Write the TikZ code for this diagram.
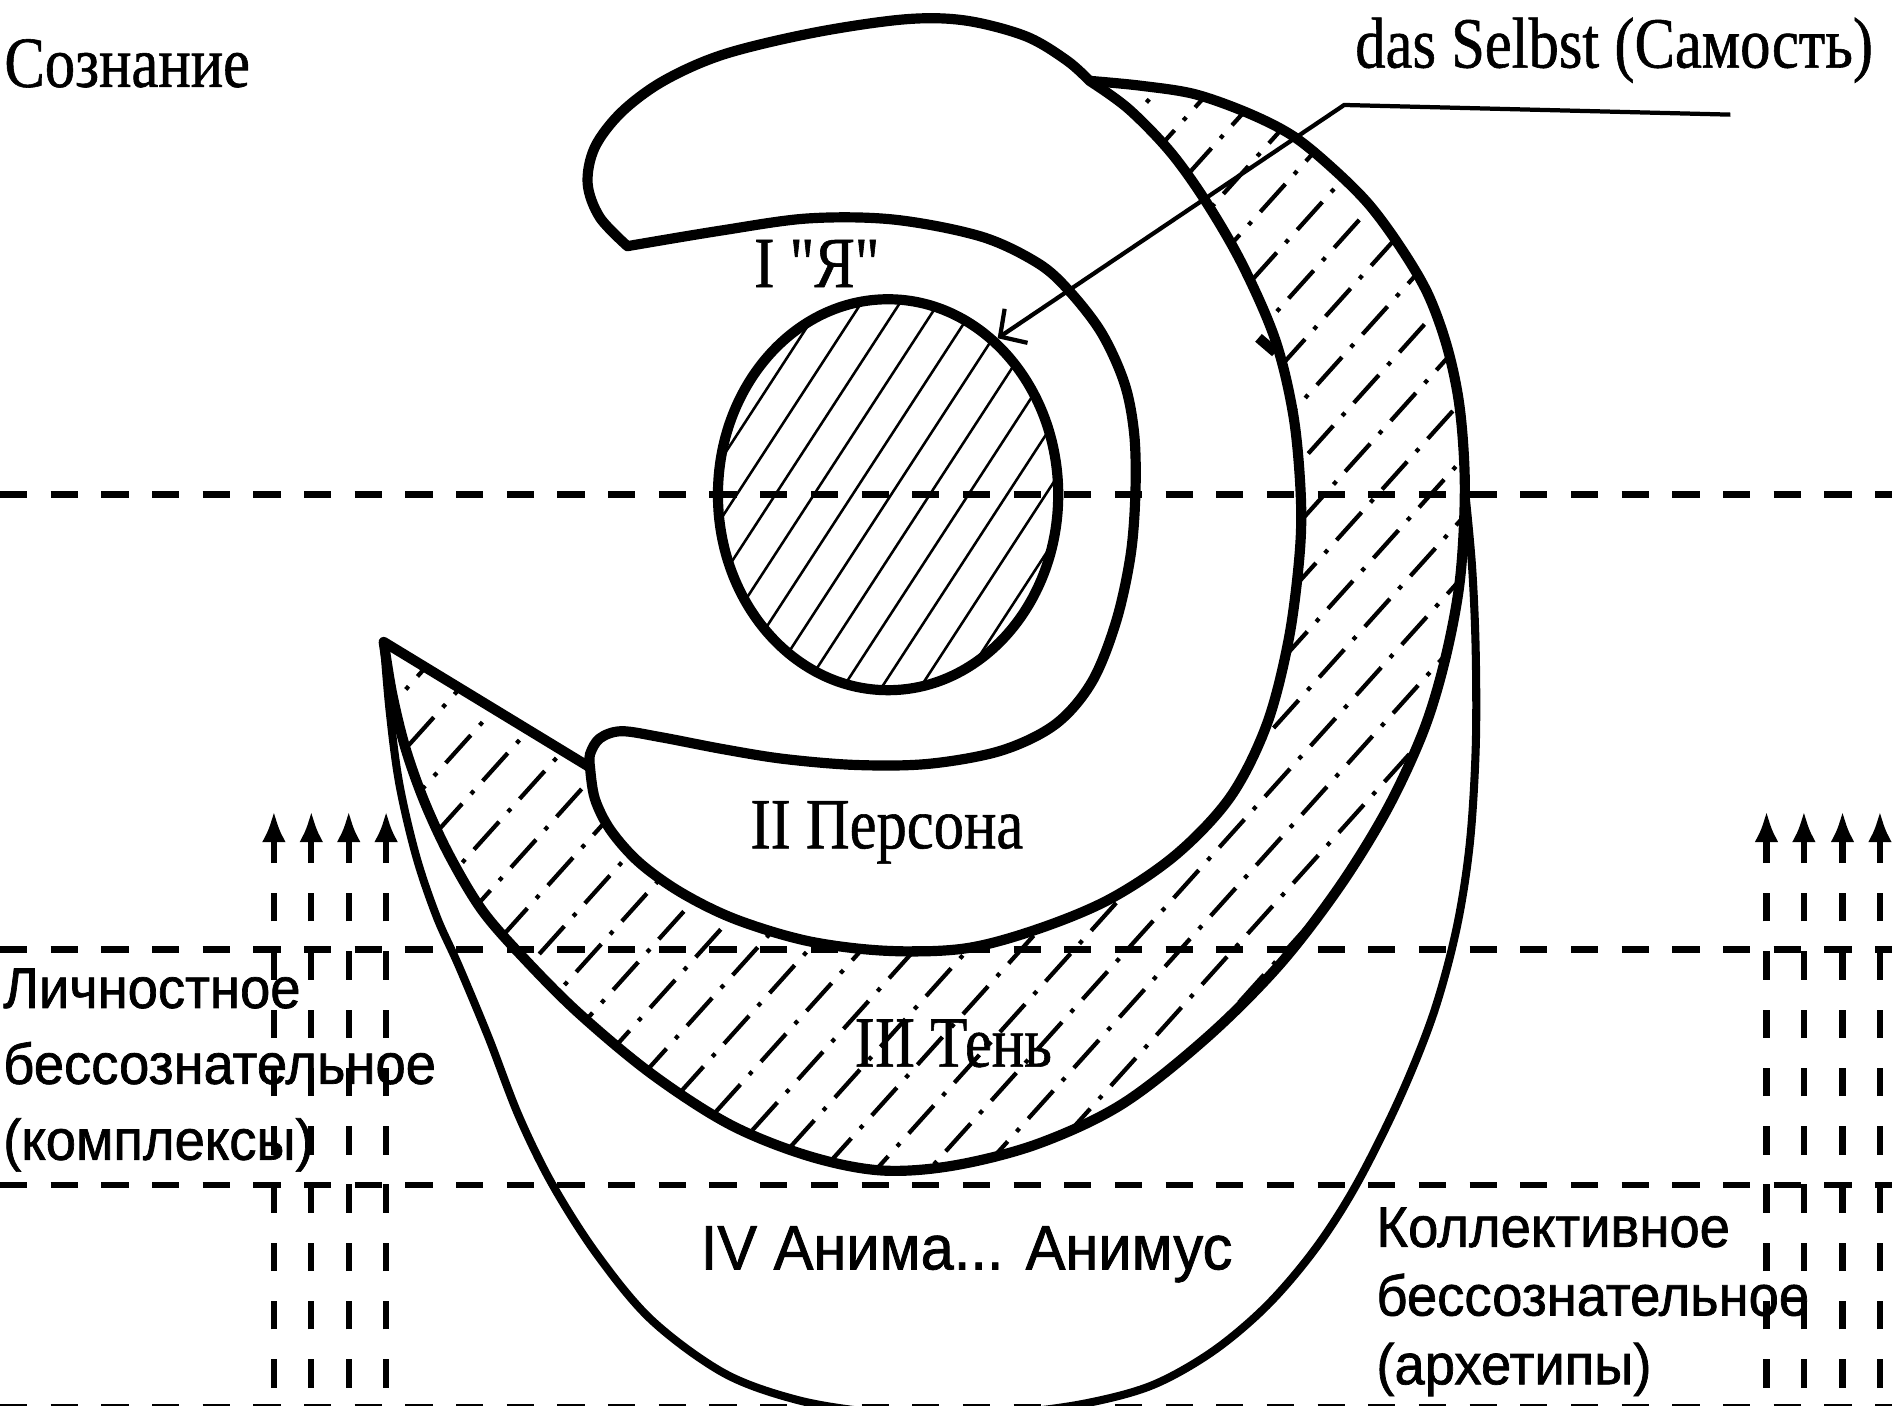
\documentclass[tikz,border=0pt]{standalone}
\usepackage{fontspec}
\newfontfamily\serifnarrow{Liberation Serif}[FakeStretch=0.84, FakeBold=0.8]
\newfontfamily\sansnarrow{Liberation Sans}[FakeStretch=0.95, FakeBold=1.2]
\usetikzlibrary{arrows.meta, shapes.geometric}

% region borders (scan pixel grid, y runs downwards)
\newcommand{\personaOuter}{-- plot[smooth, tension=0.55] coordinates {(489,636) (493,662) (506,688) (530,715) (565,740) (610,762) (670,780) (735,788) (800,786) (860,770) (920,745) (975,708) (1020,660) (1050,600) (1068,530) (1077,460) (1078,410) (1072,345) (1057,282) (1030,220) (1000,168) (970,126) (935,90) (903,67)}}
\newcommand{\capTop}{-- plot[smooth, tension=0.55] coordinates {(903,67) (884,50) (850,30) (800,17) (750,16) (675,27) (600,45) (550,67) (515,93) (493,122) (487,152) (497,180) (520,204)}}
\newcommand{\egoInner}{-- plot[smooth, tension=0.55] coordinates {(520,204) (598,191) (670,181) (741,182) (813,196) (860,218) (886,241) (913,276) (932,318) (940,360) (941,408) (937,460) (925,515) (905,565) (875,600) (830,622) (770,633) (710,634) (650,629) (600,621) (548,611) (515,606) (497,612) (489,625) (489,636)}}
\newcommand{\shadowOuter}{-- plot[smooth, tension=0.55] coordinates {(903,67) (945,71) (990,78) (1035,94) (1072,113) (1105,140) (1135,170) (1162,207) (1184,245) (1200,290) (1210,340) (1214,405) (1210,480) (1198,545) (1180,605) (1150,670) (1110,735) (1060,800) (1000,860) (930,915) (860,948) (790,966) (730,970) (670,958) (605,932) (540,890) (480,840) (435,795) (400,755) (373,710) (352,665) (336,620) (325,575) (318,532)}}
\newcommand{\animaOuter}{-- plot[smooth, tension=0.55] coordinates {(318,532) (323,590) (331,650) (345,710) (362,760) (380,800) (405,860) (430,925) (458,982) (495,1040) (540,1094) (600,1138) (660,1160) (720,1170) (780,1173) (840,1171) (900,1163) (955,1148) (1005,1120) (1050,1082) (1090,1035) (1124,982) (1160,910) (1188,840) (1207,770) (1218,700) (1223,620) (1223,540) (1220,470) (1214,405)}}

\begin{document}
\begin{tikzpicture}[
    x=0.1mm, y=-0.1mm,
    bandline/.style    = {line width=2.4pt, line join=round},
    animaline/.style   = {line width=1.9pt, line join=round},
    selfhatch/.style   = {line width=0.6pt},
    shadowhatch/.style = {line width=1pt,
                          dash pattern=on 3.1mm off 1.1mm on 0.35mm off 1.1mm},
    layerline/.style   = {line width=1.6pt, dash pattern=on 2.25mm off 1.95mm},
    uparrow/.style     = {line width=1.5pt, dash pattern=on 2.35mm off 2.48mm,
                          dash phase=3.33mm, -{Latex[length=2.6mm, width=2mm]}},
    pointer/.style     = {line width=1pt, -{Straight Barb[length=1.6mm, width=3.4mm]}},
    selfnode/.style    = {ellipse, draw, line width=2.4pt, minimum width=28.2mm,
                          minimum height=32.4mm, inner sep=0pt},
    zone/.style        = {font=\serifnarrow\fontsize{17}{20}\selectfont, inner sep=0pt},
    side/.style        = {font=\sansnarrow\fontsize{13.5}{17.9}\selectfont,
                          align=left, inner sep=0pt}
]
\fill[white] (0,0) rectangle (1568,1165);
\useasboundingbox (0,0) rectangle (1568,1165);

% ========= hatching =========
\begin{scope}
  \clip (318,532) \personaOuter \shadowOuter -- cycle;
  \foreach \i in {0,...,40} {
    \pgfmathsetmacro{\ph}{2*\i}
    \draw[shadowhatch, dash phase=\ph mm] ({-520+44*\i},985) -- ++(837,-930);
  }
\end{scope}
\begin{scope}
  \clip (736,410) ellipse [x radius=141, y radius=162];
  \foreach \i in {0,...,16}
    \draw[selfhatch] ({372+32*\i},580) -- ++(221,-340);
\end{scope}

% ========= outlines =========
\draw[bandline] (489,636) \personaOuter \capTop \egoInner -- cycle;
\draw[bandline] (903,67) \shadowOuter -- (489,636);
\draw[animaline] (318,532) \animaOuter;
\draw[bandline] (1043,280) -- (1057,292);
\node[selfnode] (selbst) at (736,410) {};

% ========= levels =========
\foreach \y in {410,787,982,1166}
  \draw[layerline] (0,\y) -- (1568,\y);

\foreach \x [count=\n] in {227,258,289,320,1464,1495,1527,1558} {
  \coordinate (foot\n) at (\x,1165);
  \coordinate (head\n) at (\x,672);
  \draw[uparrow] (foot\n) -- (head\n);
}

% ========= labels =========
\node[zone, anchor=base west] (consc)     at (3,72)     {Сознание};
\node[zone, anchor=base east] (selbsttxt) at (1553,56)  {das Selbst (Самость)};
\node[zone, anchor=base]      (ego)       at (677,238)  {I "Я"};
\node[zone, anchor=base]      (persona)   at (735,703)  {II Персона};
\node[zone, anchor=base]      (shadow)    at (790,884)  {III Тень};
\node[side, font=\sansnarrow\fontsize{14.8}{18}\selectfont, anchor=base]
      (anima) at (801,1052) {IV Анима... Анимус};
\node[side, anchor=north west] (personal) at (2,802)
      {Личностное\\бессознательное\\(комплексы)};
\node[side, font=\sansnarrow\fontsize{13.5}{16.2}\selectfont, anchor=north west]
      (collective) at (1140,1000) {Коллективное\\бессознательное\\(архетипы)};

% ========= pointer to the self =========
\coordinate (selbstfoot) at (1434,95);
\coordinate (selbstbend) at (1114,87);
\draw[pointer] (selbstfoot) -- (selbstbend) -- (selbst.55);
\end{tikzpicture}
\end{document}
